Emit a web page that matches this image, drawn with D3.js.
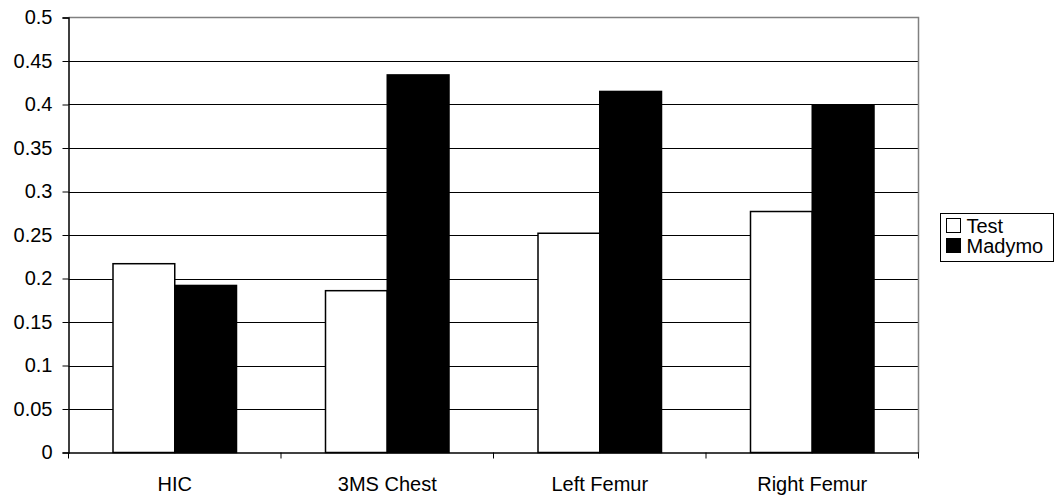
<!DOCTYPE html>
<html>
<head>
<meta charset="utf-8">
<script src="https://cdn.jsdelivr.net/npm/d3@7"></script>
<style>
  body { margin: 0; background: #fff; }
  text { font-family: Arial, "Liberation Sans", sans-serif; font-size: 20px; fill: #000; }
</style>
</head>
<body>
<div id="chart-area"></div>
<script>
const categories = ["HIC", "3MS Chest", "Left Femur", "Right Femur"]
const series = ["Test", "Madymo"]
const testValues = [0.217, 0.186, 0.252, 0.277]
const madymoValues = [0.192, 0.434, 0.415, 0.399]
const yTicks = [0, 0.05, 0.1, 0.15, 0.2, 0.25, 0.3, 0.35, 0.4, 0.45, 0.5]

const WIDTH = 1056
const HEIGHT = 498
const PLOT = { LEFT: 68.5, RIGHT: 918.5, TOP: 17.5, BOTTOM: 452.5 }
const FONT = "Arial, 'Liberation Sans', sans-serif"

const svg = d3.select("#chart-area")
    .append("svg")
    .attr("width", WIDTH)
    .attr("height", HEIGHT)

const x0 = d3.scaleBand()
    .domain(categories)
    .range([PLOT.LEFT, PLOT.RIGHT])

const gap = 89
const x1 = d3.scaleBand()
    .domain(series)
    .range([gap / 2, x0.bandwidth() - gap / 2])

const y = d3.scaleLinear()
    .domain([0, 0.5])
    .range([PLOT.BOTTOM, PLOT.TOP])

// gridlines
svg.append("g")
    .selectAll("line")
    .data(yTicks.slice(1, -1))
    .enter()
    .append("line")
    .attr("x1", PLOT.LEFT)
    .attr("x2", PLOT.RIGHT)
    .attr("y1", d => Math.round(y(d)) + 0.5)
    .attr("y2", d => Math.round(y(d)) + 0.5)
    .attr("stroke", "#000")
    .attr("stroke-width", 1)

// plot border (top and right)
svg.append("path")
    .attr("d", `M${PLOT.LEFT},${PLOT.TOP}H${PLOT.RIGHT}V${PLOT.BOTTOM}`)
    .attr("fill", "none")
    .attr("stroke", "#808080")
    .attr("stroke-width", 1.5)

const data = categories.map((c, i) => ({ cat: c, values: [testValues[i], madymoValues[i]] }))

const groups = svg.append("g")
    .selectAll("g")
    .data(data)
    .enter()
    .append("g")
    .attr("transform", d => `translate(${x0(d.cat)},0)`)

groups.selectAll("rect")
    .data(d => d.values.map((v, j) => ({ key: series[j], value: v })))
    .enter()
    .append("rect")
    .attr("x", d => x1(d.key))
    .attr("width", x1.bandwidth())
    .attr("y", d => y(d.value))
    .attr("height", d => y(0) - y(d.value))
    .attr("fill", d => d.key === "Test" ? "#fff" : "#000")
    .attr("stroke", "#000")
    .attr("stroke-width", 1.5)

// y axis
const yAxis = d3.axisLeft(y)
    .tickValues(yTicks)
    .tickFormat(d => d3.format("")(+d.toFixed(2)))
    .tickSize(6)
    .tickPadding(10)

svg.append("g")
    .attr("transform", `translate(${PLOT.LEFT},0)`)
    .call(yAxis)
    .call(g => g.select(".domain").attr("stroke", "#000").attr("stroke-width", 1.5))
    .call(g => g.selectAll(".tick line").attr("stroke", "#000"))
    .call(g => g.selectAll("text").attr("font-size", 20).attr("font-family", FONT))

// x axis
const xAxis = d3.axisBottom(x0)
    .tickSize(0)
    .tickPadding(24)

const xg = svg.append("g")
    .attr("transform", `translate(0,${PLOT.BOTTOM})`)
    .call(xAxis)
    .call(g => g.select(".domain").attr("stroke", "#000").attr("stroke-width", 1.5))
    .call(g => g.selectAll("text").attr("font-size", 20).attr("font-family", FONT))

// tick marks between categories
xg.append("g")
    .selectAll("line")
    .data(categories.concat(["end"]))
    .enter()
    .append("line")
    .attr("x1", (d, i) => PLOT.LEFT + i * x0.bandwidth())
    .attr("x2", (d, i) => PLOT.LEFT + i * x0.bandwidth())
    .attr("y1", 0)
    .attr("y2", 6)
    .attr("stroke", "#000")

// legend
const legend = svg.append("g")
    .attr("transform", "translate(940.5,213.5)")

legend.append("rect")
    .attr("width", 113)
    .attr("height", 48)
    .attr("fill", "#fff")
    .attr("stroke", "#000")

const items = legend.selectAll("g.item")
    .data(series)
    .enter()
    .append("g")
    .attr("class", "item")
    .attr("transform", (d, i) => `translate(6,${4 + i * 20})`)

items.append("rect")
    .attr("width", 14)
    .attr("height", 14)
    .attr("y", 1)
    .attr("fill", d => d === "Test" ? "#fff" : "#000")
    .attr("stroke", "#000")

items.append("text")
    .attr("x", 20)
    .attr("y", 15)
    .attr("font-size", 20)
    .text(d => d)
</script>
</body>
</html>
